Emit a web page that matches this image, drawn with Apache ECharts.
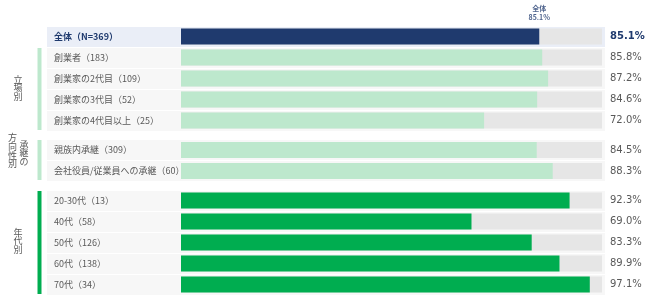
<!DOCTYPE html>
<html><head><meta charset="utf-8">
<script src="https://cdn.jsdelivr.net/npm/echarts@6/dist/echarts.min.js"></script>
<style>html,body{margin:0;padding:0;background:#fff}#c{width:650px;height:296px}</style>
</head><body><div id="c"></div>
<script>
// ---- data ----
const catsA = ['全体（N=369）','創業者（183）','創業家の2代目（109）','創業家の3代目（52）','創業家の4代目以上（25）'];
const valsA = [85.1, 85.8, 87.2, 84.6, 72.0];
const catsB = ['親族内承継（309）','会社役員/従業員への承継（60）'];
const valsB = [84.5, 88.3];
const catsC = ['20-30代（13）','40代（58）','50代（126）','60代（138）','70代（34）'];
const valsC = [92.3, 69.0, 83.3, 89.9, 97.1];
const totalLabel = '全体';
const totalValue = 85.1;

// ---- layout ----
const NAVY = '#1f3a6e', LIGHT = '#bde8cd', DARK = '#00ad50', TRACK = '#e6e6e6', ROWBG = '#f7f7f7', TOPBG = '#eaeef7';
const gridL = 47, gridR = 605, x0 = 181, x100 = 602;
const ppu = (x100 - x0) / 100;
const xmin = -(x0 - gridL) / ppu, xmax = 100 + (gridR - x100) / ppu;
const grids = [
  {left: gridL, width: gridR - gridL, top: 26, height: 105},
  {left: gridL, width: gridR - gridL, top: 139.5, height: 42},
  {left: gridL, width: gridR - gridL, top: 190, height: 105}
];
const groups = [
  {cats: catsA, vals: valsA, colors: catsA.map((c,i)=> i===0 ? NAVY : LIGHT), bg: catsA.map((c,i)=> i===0 ? TOPBG : ROWBG), first: true},
  {cats: catsB, vals: valsB, colors: catsB.map(()=>LIGHT), bg: [ROWBG]},
  {cats: catsC, vals: valsC, colors: catsC.map(()=>DARK), bg: [ROWBG]}
];
const FONT = '"Noto Sans CJK JP", sans-serif';

const xAxis = [], yAxis = [], series = [];
groups.forEach((g, gi) => {
  xAxis.push({type: 'value', gridIndex: gi, min: xmin, max: xmax, show: false});
  yAxis.push({
    type: 'category', gridIndex: gi, inverse: true, data: g.cats,
    axisLine: {show: false}, axisTick: {show: false},
    axisLabel: {inside: true, margin: 7, fontFamily: FONT, fontSize: 9, color: '#595959',
      formatter: (v, i) => (g.first && i === 0) ? '{b|' + v + '}' : v,
      rich: {b: {fontFamily: FONT, fontSize: 9, fontWeight: 'bold', color: NAVY}}},
    splitArea: {show: true, areaStyle: {color: g.bg}},
    splitLine: {show: true, lineStyle: {color: '#ffffff', width: 1}}
  });
  series.push({
    type: 'bar', xAxisIndex: gi, yAxisIndex: gi, barWidth: 16, barGap: '-100%', silent: true,
    data: g.vals.map(() => 100),
    itemStyle: {color: TRACK},
    label: {show: true, position: 'right', distance: 8, fontFamily: '"DejaVu Sans", sans-serif', fontSize: 10, color: '#595959',
      formatter: p => (g.first && p.dataIndex === 0) ? '{b|' + g.vals[p.dataIndex].toFixed(1) + '%}' : g.vals[p.dataIndex].toFixed(1) + '%',
      rich: {b: {fontFamily: '"DejaVu Sans", sans-serif', fontSize: 10, fontWeight: 'bold', color: NAVY}}}
  });
  series.push({
    type: 'bar', xAxisIndex: gi, yAxisIndex: gi, barWidth: 16, barGap: '-100%', silent: true,
    data: g.vals.map((v, i) => ({value: v, itemStyle: {color: g.colors[i]}}))
  });
});
// annotation above the total bar
series.push({
  type: 'scatter', xAxisIndex: 0, yAxisIndex: 0, symbolSize: 0, silent: true,
  data: [[totalValue, 0]],
  label: {show: true, position: 'top', distance: 15, formatter: totalLabel + '\n' + totalValue.toFixed(1) + '%',
    fontFamily: FONT, fontSize: 7, fontWeight: 'bold', color: NAVY, lineHeight: 9, align: 'center'}
});

const txt = (t, x, y) => ({type: 'text', x: x, y: y, silent: true,
  style: {text: t, fill: '#595959', font: '9px "Noto Sans CJK JP"', textAlign: 'center', textVerticalAlign: 'middle', lineHeight: 8.7}});
const graphic = [
  {type: 'rect', shape: {x: 37.5, y: 48, width: 4, height: 82}, style: {fill: LIGHT}, silent: true},
  {type: 'rect', shape: {x: 37.5, y: 140, width: 4, height: 40}, style: {fill: LIGHT}, silent: true},
  {type: 'rect', shape: {x: 37.5, y: 191, width: 4, height: 103}, style: {fill: DARK}, silent: true},
  txt('立\n場\n別', 18, 88),
  txt('承\n継\nの', 24, 153),
  txt('方\n向\n性\n別', 12.5, 151),
  txt('年\n代\n別', 18, 241)
];

const chart = echarts.init(document.getElementById('c'), null, {renderer: 'canvas'});
chart.setOption({animation: false, grid: grids, xAxis, yAxis, series, graphic});
</script></body></html>
